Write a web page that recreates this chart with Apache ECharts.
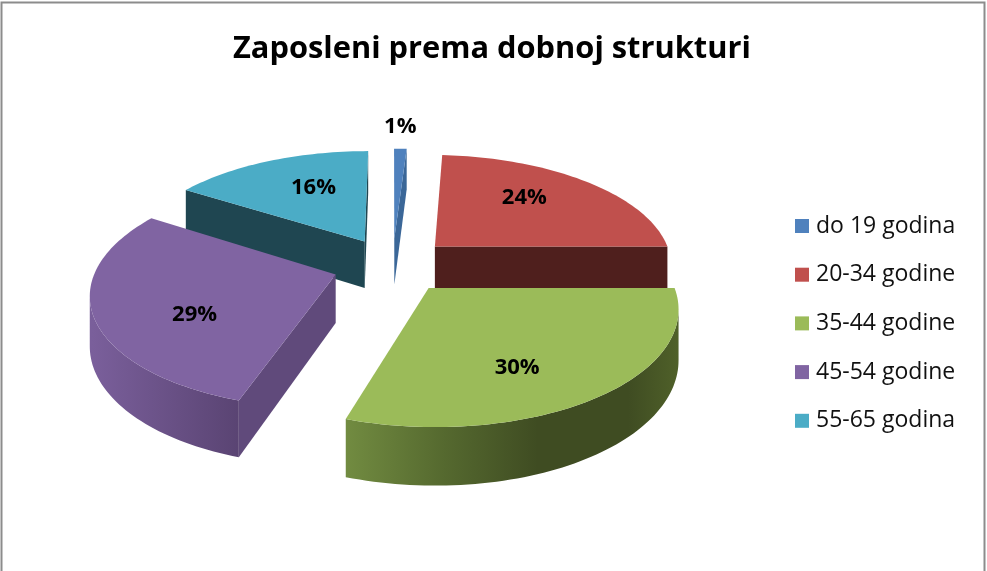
<!DOCTYPE html>
<html>
<head>
<meta charset="utf-8">
<style>html,body{margin:0;padding:0;background:#fff}#c{width:987px;height:571px}</style>
<script src="https://cdn.jsdelivr.net/npm/echarts@6/dist/echarts.min.js"></script>
</head>
<body>
<div id="c"></div>
<script>
var chartTitle = 'Zaposleni prema dobnoj strukturi';
var categories = ['do 19 godina', '20-34 godine', '35-44 godine', '45-54 godine', '55-65 godina'];
var shares = [1, 24, 30, 29, 16];

var topColors = ['#4f81bd', '#c0504d', '#9bbb59', '#8064a2', '#4bacc6'];
var cutColors = ['#3b6798', '#4f1f1d', '#566b30', '#604a7b', '#1f4651'];
var labelNudge = [[-2, 6], [-33, 4], [-44, -5], [51, 8], [27, 12]];

var view = { cx: 392.5, cy: 265, R: 238.5, ky: 110.5 / 238.5, persp: 0.15, depth: 48, explode: 0.25, labelRadius: 0.8 };
var font = '"Open Sans","Noto Sans",sans-serif';

function project(u, v, z) {
  var s = 1 / (1 + view.persp * v);
  return [view.cx + view.R * u * s, view.cy - view.R * view.ky * v * s + view.depth * z * s];
}
var total = shares.reduce(function (a, b) { return a + b; }, 0);
function sliceRange(i) {
  var before = 0;
  for (var k = 0; k < i; k++) before += shares[k];
  return [before / total * Math.PI * 2, (before + shares[i]) / total * Math.PI * 2];
}
function outerFill(i) {
  if (i === 2) {
    return { type: 'linear', global: true, x: 344, y: 0, x2: 678, y2: 0, colorStops: [
      { offset: 0, color: '#728c41' }, { offset: 0.3, color: '#55692f' }, { offset: 0.58, color: '#3f4c22' },
      { offset: 0.85, color: '#3f4c22' }, { offset: 1, color: '#4f6029' }] };
  }
  if (i === 3) {
    return { type: 'linear', global: true, x: 92, y: 0, x2: 238, y2: 0, colorStops: [
      { offset: 0, color: '#7a5f9b' }, { offset: 1, color: '#5a4473' }] };
  }
  return cutColors[i];
}
function renderSlice(i) {
  return function (params, api) {
    var r = sliceRange(i), mid = (r[0] + r[1]) / 2;
    var ou = Math.sin(mid) * view.explode, ov = Math.cos(mid) * view.explode;
    var steps = Math.max(4, Math.round((r[1] - r[0]) * 40));
    var topPts = [], botPts = [];
    for (var n = 0; n <= steps; n++) {
      var a = r[0] + (r[1] - r[0]) * n / steps;
      topPts.push(project(ou + Math.sin(a), ov + Math.cos(a), 0));
      botPts.push(project(ou + Math.sin(a), ov + Math.cos(a), 1));
    }
    var apexT = project(ou, ov, 0), apexB = project(ou, ov, 1);
    var kids = [];
    var first = -1, last = -1;
    for (var m = 0; m < steps; m++) {
      if (topPts[m + 1][0] < topPts[m][0]) { if (first < 0) first = m; last = m + 1; }
    }
    var t0 = topPts[0], b0 = botPts[0], t1 = topPts[steps], b1 = botPts[steps];
    if (t0[0] < apexT[0]) kids.push({ type: 'polygon', shape: { points: [apexT, t0, b0, apexB] }, style: { fill: cutColors[i] } });
    if (apexT[0] < t1[0]) kids.push({ type: 'polygon', shape: { points: [t1, apexT, apexB, b1] }, style: { fill: cutColors[i] } });
    if (first >= 0) {
      var wall = topPts.slice(first, last + 1).concat(botPts.slice(first, last + 1).reverse());
      kids.push({ type: 'polygon', shape: { points: wall }, style: { fill: outerFill(i) } });
    }
    kids.push({ type: 'polygon', shape: { points: [apexT].concat(topPts) }, style: { fill: topColors[i] } });
    var value = api.value(0);
    var rho = i === 0 ? 1.37 : view.labelRadius;
    var lp = project(ou + Math.sin(mid) * rho, ov + Math.cos(mid) * rho, 0);
    kids.push({ type: 'text', z2: 10, style: {
      text: value + '%', x: lp[0] + labelNudge[i][0], y: lp[1] + labelNudge[i][1],
      align: 'center', verticalAlign: 'middle', fill: '#000',
      font: 'bold 22px ' + font } });
    return { type: 'group', children: kids };
  };
}

var series = categories.map(function (name, i) {
  return {
    type: 'custom', name: name, coordinateSystem: 'none', silent: true,
    z: i === 2 ? 5 : i === 3 ? 4 : 3,
    itemStyle: { color: topColors[i] },
    renderItem: renderSlice(i),
    data: [[shares[i]]]
  };
});

var chart = echarts.init(document.getElementById('c'), null, { renderer: 'canvas' });
chart.setOption({
  animation: false,
  backgroundColor: '#fff',
  title: { text: chartTitle, top: 29, left: 228,
    textStyle: { fontFamily: font, fontWeight: 'bold', fontSize: 30.8, color: '#000' } },
  legend: { orient: 'vertical', left: 790, top: 207, itemWidth: 14, itemHeight: 14, itemGap: 20.7, icon: 'rect',
    data: categories, selectedMode: false,
    textStyle: { fontFamily: font, fontSize: 23, color: '#111', padding: [0, 0, 0, 2], lineHeight: 28 } },
  graphic: [
    { type: 'polyline', silent: true, shape: { points: [[1.5, 571], [1.5, 2.5], [984.5, 2.5], [984.5, 571]] },
      style: { fill: 'none', stroke: '#8c8c8c', lineWidth: 2 } }
  ],
  series: series
});
</script>
</body>
</html>
